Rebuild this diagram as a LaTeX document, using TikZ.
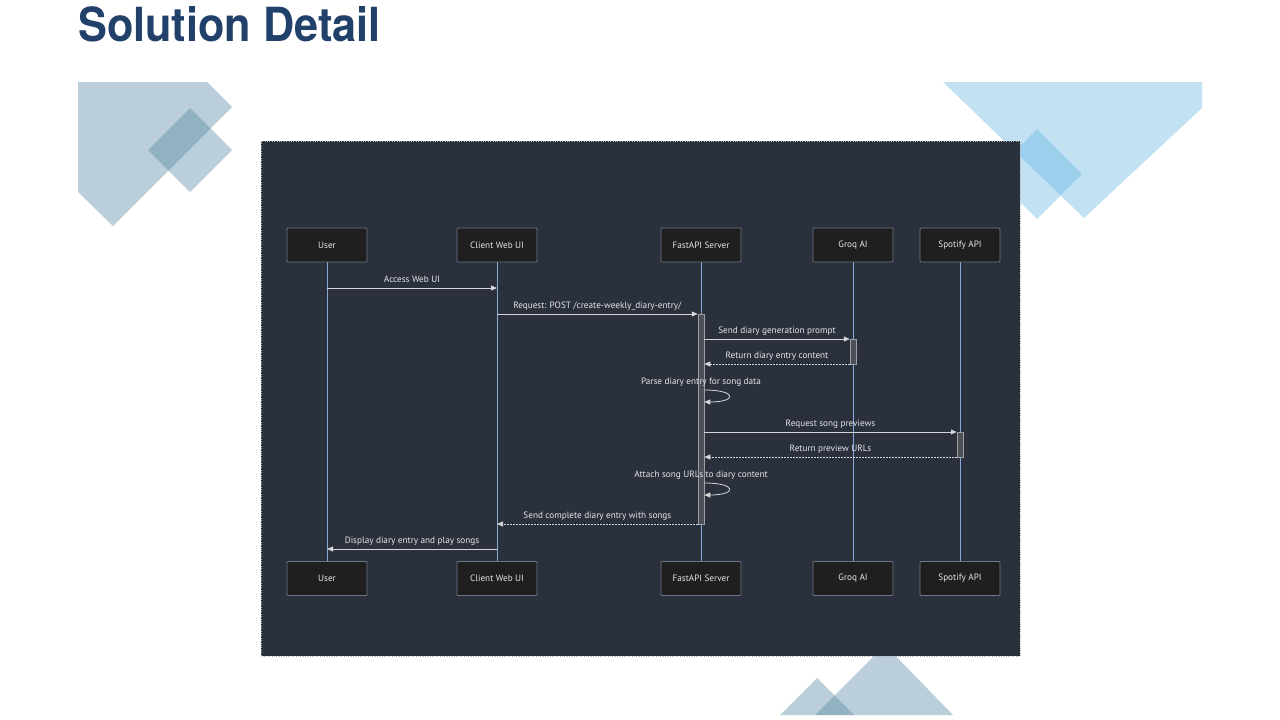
\documentclass[tikz,border=0pt]{standalone}
\usepackage{fontspec}
\setmainfont{PT Sans}
\newfontfamily\titlefont{TeX Gyre Heros}
\usetikzlibrary{arrows.meta}
\usepackage{xcolor}
\definecolor{titleblue}{HTML}{21416A}
\definecolor{paneldark}{HTML}{2A303C}
\definecolor{actorfill}{HTML}{1F1F1F}
\definecolor{actorline}{HTML}{6B7689}
\definecolor{lifeline}{HTML}{86AAD8}
\definecolor{msgline}{HTML}{D6D6DA}
\definecolor{msgtext}{HTML}{E6E6E6}
\definecolor{barfill}{HTML}{4B5059}
\definecolor{grayblue}{RGB}{85,135,162}
\definecolor{skyblue}{RGB}{102,182,225}

\tikzset{%
  actor/.style={draw=actorline,fill=actorfill,line width=0.8pt,rounded corners=1pt,
    minimum width=80pt,minimum height=34pt,inner sep=0pt,text=msgtext,
    font=\fontsize{9.2}{11}\selectfont},%
  actbar/.style={draw=gray!75,fill=barfill,line width=0.5pt,minimum width=6pt,inner sep=0pt},%
  msg/.style={draw=msgline,line width=0.8pt,-{Triangle[length=6pt,width=5pt]}},%
  reply/.style={msg,dash pattern=on 1.5pt off 1.5pt},%
  msglabel/.style={anchor=base,yshift=5.5pt,inner sep=0pt,text=msgtext,
    font=\fontsize{9.2}{11}\selectfont},%
  greydeco/.style={fill=grayblue,fill opacity=0.4},%
  bluedeco/.style={fill=skyblue,fill opacity=0.4},%
}

\begin{document}
\begin{tikzpicture}[x=1pt,y=-1pt]%
    \useasboundingbox (0,0) rectangle (1280,720);%
    % title
    \node[anchor=base west,inner sep=0pt,text=titleblue,xscale=0.92,
      font=\titlefont\bfseries\fontsize{47}{50}\selectfont] (title) at (78,41) {Solution Detail};%
    % background shapes
    \fill[greydeco] (78,82) -- (207,82) -- (232,107) -- (113,226) -- (78,192) -- cycle;%
    \fill[greydeco] (190,108) -- (232,150) -- (190,192) -- (148,150) -- cycle;%
    \fill[bluedeco] (943,82) -- (1202,82) -- (1202,108) -- (1084,218) -- cycle;%
    \fill[bluedeco] (1037,129) -- (1082,174) -- (1037,219) -- (992,174) -- cycle;%
    \fill[greydeco] (885,645) -- (953,715) -- (815,715) -- cycle;%
    \fill[greydeco] (817,678) -- (854,715) -- (780,715) -- cycle;%
    % diagram panel
    \fill[paneldark] (261,141) rectangle (1020,656);%
    \draw[gray!60,line width=0.4pt,dotted] (261,141) rectangle (1020,656);%
    % actors
    \node[actor] (user) at (327,245) {User};%
    \node[actor] (client) at (497,245) {Client Web UI};%
    \node[actor] (api) at (701,245) {FastAPI Server};%
    \node[actor] (groq) at (853,245) {Groq AI};%
    \node[actor] (spotify) at (960,245) {Spotify API};%
    \node[actor] (userB) at (327,578.5) {User};%
    \node[actor] (clientB) at (497,578.5) {Client Web UI};%
    \node[actor] (apiB) at (701,578.5) {FastAPI Server};%
    \node[actor] (groqB) at (853,578.5) {Groq AI};%
    \node[actor] (spotifyB) at (960,578.5) {Spotify API};%
    \foreach \a in {user,client,api,groq,spotify}
      \draw[lifeline,line width=1pt] (\a.south) -- (\a B.north);%
    % activations
    \node[actbar,minimum height=210pt] (apibar) at (701,419) {};%
    \node[actbar,minimum height=25pt] (groqbar) at (853,351.5) {};%
    \node[actbar,minimum height=25pt] (spotifybar) at (960,444.5) {};%
    % message rows
    \foreach \n/\y in {1/288,2/314,3/339,4/364,5/390,6/402,7/432,8/457,9/483,10/495,11/524,12/549}
      \coordinate (r\n) at (0,\y);%
    % messages
    \draw[msg] (user |- r1) -- (client |- r1) node[msglabel,midway] {Access Web UI};%
    \draw[msg] (client |- r2) -- (apibar.west |- r2) node[msglabel,midway] {Request: POST /create-weekly\_diary-entry/};%
    \draw[msg] (apibar.east |- r3) -- (groqbar.west |- r3) node[msglabel,midway] {Send diary generation prompt};%
    \draw[reply] (groqbar.west |- r4) -- (apibar.east |- r4) node[msglabel,midway] {Return diary entry content};%
    \draw[msg] (apibar.east |- r5) to[out=0,in=0,distance=33pt] (apibar.east |- r6);%
    \node[msglabel] (parse) at (apibar |- r5) {Parse diary entry for song data};%
    \draw[msg] (apibar.east |- r7) -- (spotifybar.west |- r7) node[msglabel,midway] {Request song previews};%
    \draw[reply] (spotifybar.west |- r8) -- (apibar.east |- r8) node[msglabel,midway] {Return preview URLs};%
    \draw[msg] (apibar.east |- r9) to[out=0,in=0,distance=33pt] (apibar.east |- r10);%
    \node[msglabel] (attach) at (apibar |- r9) {Attach song URLs to diary content};%
    \draw[reply] (apibar.west |- r11) -- (client |- r11) node[msglabel,midway] {Send complete diary entry with songs};%
    \draw[msg] (client |- r12) -- (user |- r12) node[msglabel,midway] {Display diary entry and play songs};%
  \end{tikzpicture}
\end{document}
